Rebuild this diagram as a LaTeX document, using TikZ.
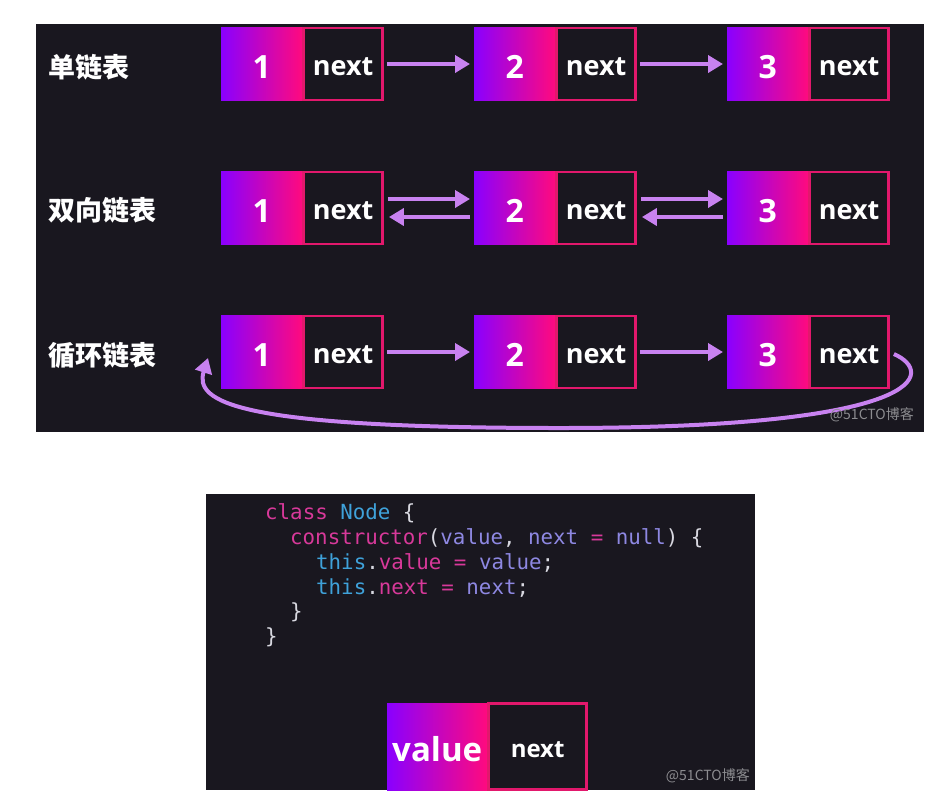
\documentclass[tikz,border=0pt]{standalone}
\usepackage{fontspec}
\setmainfont{Open Sans}
\newfontfamily\cjk{Noto Sans CJK SC}
\newfontfamily\codefont{DejaVu Sans Mono}
\usetikzlibrary{arrows.meta}
\definecolor{panel}{HTML}{19171F}
\definecolor{gpurple}{HTML}{8A00FF}
\definecolor{gpink}{HTML}{FF0A7E}
\definecolor{cellborder}{HTML}{E2186C}
\definecolor{lav}{HTML}{C882F0}
\definecolor{cpink}{HTML}{D8399A}
\definecolor{cblue}{HTML}{3FA2DA}
\definecolor{clav}{HTML}{8E88E2}
\definecolor{cwhite}{HTML}{D8D8E0}
\definecolor{wm}{HTML}{8C8C90}
\newcommand\dn[1]{\raisebox{-3pt}[\height][\depth]{#1}}
\tikzset{
  valcell/.style={minimum width=81pt, minimum height=73pt, inner sep=0pt, anchor=west,
    left color=gpurple, right color=gpink, text=white, font=\fontsize{32}{32}\selectfont\bfseries},
  nextcell/.style={minimum width=79pt, minimum height=72pt, inner sep=0pt, anchor=west,
    fill=panel, draw=cellborder, line width=2.5pt, text=white, font=\fontsize{27}{27}\selectfont\bfseries},
  arr/.style={draw=lav, line width=4pt, -{Triangle[length=15pt,width=17pt]}},
  rowlabel/.style={anchor=west, text=white, font=\cjk\fontsize{27}{27}\selectfont\bfseries, inner sep=0pt},
  codeline/.style={anchor=west, inner sep=0pt, font=\codefont\fontsize{20.8}{20.8}\selectfont, text=cwhite},
  watermark/.style={anchor=east, inner sep=0pt, text=wm, font=\cjk\fontsize{14}{14}\selectfont},
}
\begin{document}
\begin{tikzpicture}[x=1pt,y=-1pt]
\useasboundingbox (0,0) rectangle (949,804);
\fill[white] (0,0) rectangle (949,804);
% panels
\fill[panel] (36,24) rectangle (924,432);
\fill[panel] (206,494) rectangle (755,790);

% labels
\node[rowlabel] (l1) at (48,67) {单链表};
\node[rowlabel] (l2) at (48,210) {双向链表};
\node[rowlabel] (l3) at (48,355) {循环链表};

% rows
\foreach \r/\y in {1/64,2/208,3/352}{
  \node[valcell] (v\r a) at (221,\y) {\dn{1}};
  \node[nextcell] (n\r a) at (v\r a.east) {\dn{next}};
  \node[valcell] (v\r b) at (474,\y) {\dn{2}};
  \node[nextcell] (n\r b) at (v\r b.east) {\dn{next}};
  \node[valcell] (v\r c) at (727,\y) {\dn{3}};
  \node[nextcell] (n\r c) at (v\r c.east) {\dn{next}};
}

% row 1 arrows
\draw[arr] ([xshift=3pt]n1a.east) -- ([xshift=-4pt]v1b.west);
\draw[arr] ([xshift=3pt]n1b.east) -- ([xshift=-4pt]v1c.west);
% row 2 arrows
\draw[arr] ([xshift=4pt,yshift=9pt]n2a.east) -- ([xshift=-4pt,yshift=9pt]v2b.west);
\draw[arr] ([xshift=-4pt,yshift=-9pt]v2b.west) -- ([xshift=5pt,yshift=-9pt]n2a.east);
\draw[arr] ([xshift=4pt,yshift=9pt]n2b.east) -- ([xshift=-4pt,yshift=9pt]v2c.west);
\draw[arr] ([xshift=-4pt,yshift=-9pt]v2c.west) -- ([xshift=5pt,yshift=-9pt]n2b.east);
% row 3 arrows
\draw[arr] ([xshift=3pt]n3a.east) -- ([xshift=-4pt]v3b.west);
\draw[arr] ([xshift=3pt]n3b.east) -- ([xshift=-4pt]v3c.west);
\coordinate (loopA) at (560,428);
\draw[arr] ([xshift=4pt,yshift=-2pt]n3c.east) .. controls (935,372) and (930,428) .. (loopA)
   .. controls (236,428) and (194,402) .. ([xshift=-13pt,yshift=-6pt]v3a.west);

\node[watermark] (wm1) at (914,415) {@51CTO博客};

% code
\node[codeline] (c1) at (265,513) {\textcolor{cpink}{class} \textcolor{cblue}{Node} \{};
\node[codeline] (c2) at (290,538) {\textcolor{cpink}{constructor}(\textcolor{clav}{value}, \textcolor{clav}{next} \textcolor{cpink}{=} \textcolor{clav}{null}) \{};
\node[codeline] (c3) at (316,563) {\textcolor{cblue}{this}.\textcolor{cpink}{value} \textcolor{cpink}{=} \textcolor{clav}{value};};
\node[codeline] (c4) at (316,588) {\textcolor{cblue}{this}.\textcolor{cpink}{next} \textcolor{cpink}{=} \textcolor{clav}{next};};
\node[codeline] (c5) at (290,612) {\}};
\node[codeline] (c6) at (265,637) {\}};

% bottom node
\node[valcell, minimum width=100pt, minimum height=87pt, font=\fontsize{33}{33}\selectfont\bfseries] (bv) at (387,746.5) {\dn{value}};
\node[nextcell, minimum width=98pt, minimum height=86pt, font=\fontsize{24}{24}\selectfont\bfseries] (bn) at (bv.east) {\dn{next}};
\node[watermark] (wm2) at (750,776) {@51CTO博客};
\end{tikzpicture}
\end{document}
